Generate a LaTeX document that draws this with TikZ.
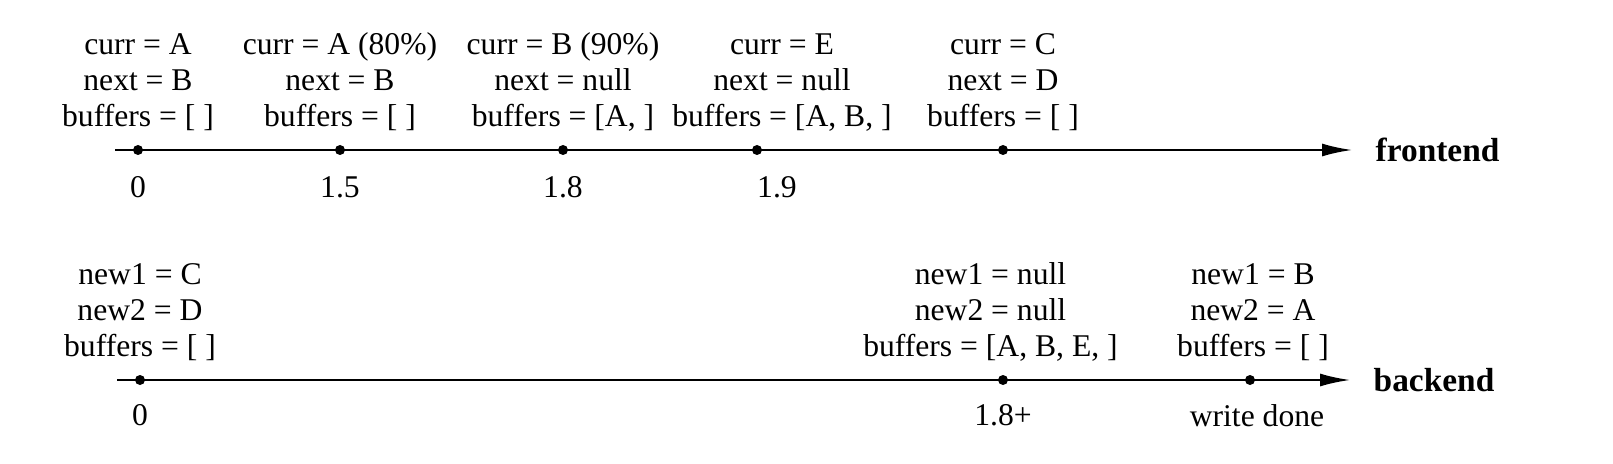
\documentclass[tikz,border=0pt]{standalone}
\usepackage{fontspec}
\setmainfont{Liberation Serif}
\usetikzlibrary{positioning,arrows.meta}
\begin{document}
\begin{tikzpicture}[
  every node/.style = {font=\fontsize{18}{20.5}\selectfont},
  axis/.style = {line width=0.04cm, -{Latex[length=0.6cm,width=0.26cm]}},
  dot/.style = {circle, fill=black, inner sep=0pt, minimum size=0.2cm},
  state/.style = {align=center},
  axislabel/.style = {font=\fontsize{19}{22}\selectfont\bfseries}]
  \useasboundingbox (0,0) rectangle (32.26,9.26);
  % frontend line
  \coordinate (fs) at (2.3,6.26);
  \coordinate (fe) at (27.04,6.26);
  \draw[axis] (fs) -- (fe);
  \node[axislabel, right=0.35cm of fe] (flabel) {frontend};
  \foreach \n/\x in {f0/2.76, f1/6.8, f2/11.26, f3/15.14, f4/20.06}
    \node[dot] (\n) at (\x,6.26) {};
  \node[state, above=0.15cm of f0] (fs0) {curr = A\\ next = B\\ buffers = [ ]};
  \node[state, above=0.15cm of f1] (fs1) {curr = A (80\%)\\ next = B\\ buffers = [ ]};
  \node[state, above=0.15cm of f2] (fs2) {curr = B (90\%)\\ next = null\\ buffers = [A, ]};
  \node[state, above=0.15cm of f3, xshift=0.5cm] (fs3) {curr = E\\ next = null\\ buffers = [A, B, ]};
  \node[state, above=0.15cm of f4] (fs4) {curr = C\\ next = D\\ buffers = [ ]};
  \node[below=0.3cm of f0] (ft0) {0};
  \node[below=0.3cm of f1] (ft1) {1.5};
  \node[below=0.3cm of f2] (ft2) {1.8};
  \node[below=0.3cm of f3, xshift=0.4cm] (ft3) {1.9};
  % backend line
  \coordinate (bs) at (2.34,1.66);
  \coordinate (be) at (27,1.66);
  \draw[axis] (bs) -- (be);
  \node[axislabel, right=0.35cm of be] (blabel) {backend};
  \foreach \n/\x in {b0/2.8, b1/20.06, b2/25}
    \node[dot] (\n) at (\x,1.66) {};
  \node[state, above=0.15cm of b0] (bs0) {new1 = C\\ new2 = D\\ buffers = [ ]};
  \node[state, above=0.15cm of b1, xshift=-0.25cm] (bs1) {new1 = null\\ new2 = null\\ buffers = [A, B, E, ]};
  \node[state, above=0.15cm of b2, xshift=0.06cm] (bs2) {new1 = B\\ new2 = A\\ buffers = [ ]};
  \node[below=0.25cm of b0] (bt0) {0};
  \node[below=0.25cm of b1] (bt1) {1.8+};
  \node[below=0.25cm of b2, xshift=0.14cm] (bt2) {write done};
\end{tikzpicture}
\end{document}
